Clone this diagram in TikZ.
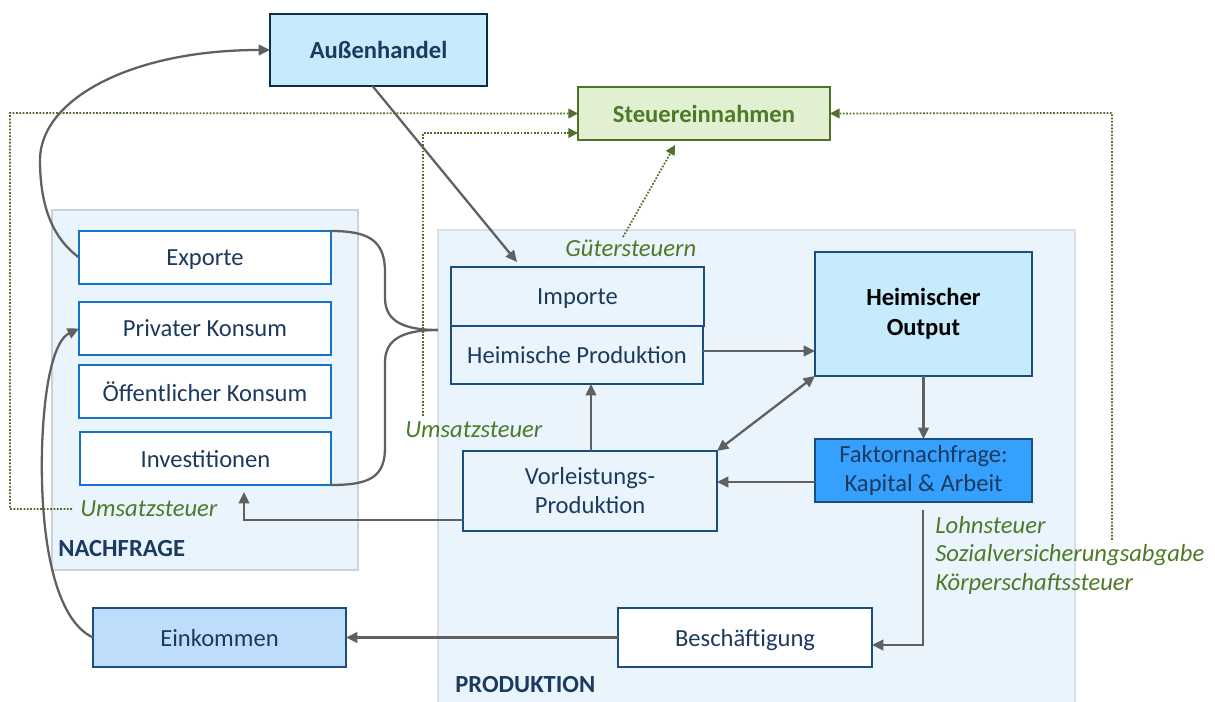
\documentclass[tikz,border=0pt]{standalone}
\usepackage{fontspec}
\setmainfont{Carlito}
\usetikzlibrary{arrows.meta}
\definecolor{navytext}{HTML}{1B3A5E}
\definecolor{navyline}{HTML}{1A4E80}
\definecolor{darknavy}{HTML}{0F2C4C}
\definecolor{blueline}{HTML}{1672C4}
\definecolor{regionbg}{HTML}{EAF4FD}
\definecolor{regionline}{HTML}{C9D2DC}
\definecolor{cyanfill}{HTML}{C5EBFC}
\definecolor{faktfill}{HTML}{36A0FF}
\definecolor{einkfill}{HTML}{BDDDFB}
\definecolor{greentext}{HTML}{4E7A28}
\definecolor{greenfill}{HTML}{E2F0D2}
\definecolor{greenline}{HTML}{4E7328}
\definecolor{greendot}{HTML}{4F702A}
\definecolor{arrowgray}{HTML}{606060}
\begin{document}
\begin{tikzpicture}[x=0.02cm,y=-0.02cm,
  font=\fontsize{14}{16.5}\selectfont,
  box/.style={draw=navyline, line width=1.1pt, text=navytext, inner sep=1pt, outer sep=0pt, align=center},
  oneline/.style={text depth=0pt},
  dembox/.style={draw=blueline, line width=0.9pt, fill=white, text=navytext, outer sep=0pt, text depth=0pt, minimum width=5.04cm, minimum height=1.06cm},
  garrow/.style={draw=arrowgray, line width=1.3pt, -{Triangle[length=6.5pt,width=6pt]}},
  gline/.style={draw=arrowgray, line width=1.3pt},
  dotarrow/.style={draw=greendot, line width=1pt, dash pattern=on 1pt off 0.9pt, -{Triangle[length=5.5pt,width=5.5pt]}},
  taxlabel/.style={text=greentext, font=\fontsize{14}{16.5}\selectfont\itshape, inner sep=0pt, anchor=west},
  regionlabel/.style={text=navytext, font=\fontsize{14}{16.5}\selectfont\bfseries, inner sep=0pt, anchor=west}
]
\useasboundingbox (0,0) rectangle (1215,702);

% regions
\fill[regionbg, draw=regionline, line width=0.6pt] (52,210) rectangle (358,570);
\fill[regionbg, draw=regionline!70, line width=0.6pt] (438,230) rectangle (1075,703);
\node[regionlabel] (nachfrage) at (58,549) {NACHFRAGE};
\node[regionlabel] (produktion) at (455,685) {PRODUKTION};

% nodes
\node[box, oneline, draw=darknavy, line width=1.5pt, fill=cyanfill, font=\fontsize{14}{16.5}\selectfont\bfseries, minimum width=4.34cm, minimum height=1.44cm] (aussen) at (378.5,50) {Außenhandel};
\node[box, oneline, draw=greenline, fill=greenfill, text=greentext, font=\fontsize{14}{16.5}\selectfont\bfseries, minimum width=5.04cm, minimum height=1.06cm] (steuer) at (704,113.5) {Steuereinnahmen};

\node[dembox] (export) at (205,257.5) {Exporte};
\node[dembox] (privat) at (205,328.5) {Privater Konsum};
\node[dembox] (oeff) at (205,391.5) {Öffentlicher Konsum};
\node[dembox, minimum width=5.02cm] (invest) at (205.5,458.5) {Investitionen};

\node[box, oneline, fill=regionbg, minimum width=5.06cm, minimum height=1.18cm] (import) at (577.5,296.5) {Importe};
\node[box, oneline, fill=regionbg, minimum width=5.04cm, minimum height=1.16cm] (heimprod) at (577,355) {Heimische Produktion};
\node[box, fill=cyanfill, text=black, font=\fontsize{14}{17}\selectfont\bfseries, minimum width=4.34cm, minimum height=2.48cm] (output) at (923.5,314) {Heimischer\\Output};
\node[box, fill=faktfill, minimum width=4.34cm, minimum height=1.26cm, inner sep=0pt] (faktor) at (923.5,470.5) {Faktornachfrage:\\Kapital \& Arbeit};
\node[box, fill=regionbg, minimum width=5.08cm, minimum height=1.6cm] (vorl) at (590,491) {Vorleistungs-\\Produktion};
\node[box, oneline, fill=white, minimum width=5.08cm, minimum height=1.18cm] (besch) at (745,637.5) {Beschäftigung};
\node[box, oneline, fill=einkfill, minimum width=5.06cm, minimum height=1.18cm] (eink) at (219.5,637.5) {Einkommen};

% tax labels
\node[taxlabel] (ust1) at (80,509) {Umsatzsteuer};
\node[taxlabel] (ust2) at (405,430) {Umsatzsteuer};
\node[taxlabel] (guet) at (565,248) {Gütersteuern};
\node[taxlabel] (lohn) at (935,525) {Lohnsteuer};
\node[taxlabel] (sozial) at (935,555) {Sozialversicherungsabgabe};
\node[taxlabel] (koerp) at (935,584) {Körperschaftssteuer};

% coordinates
\coordinate (bracetip) at (438,330);
\coordinate (ust1start) at (72,509);
\coordinate (ust2start) at (423,416);
\coordinate (guetstart) at (623,237);
\coordinate (guetend) at (675,145);
\coordinate (rightstart) at (1112,540);
\coordinate (faktstart) at (923,510);
\coordinate (investin) at (244,492);

% gray connectors
\draw[garrow] (aussen.south) ++(-6,0) -- (517,262);
\draw[garrow] (export.west) .. controls (55,240) and (40,210) .. (40,160) .. controls (40,100) and (130,50) .. (aussen.west);
\draw[garrow] (eink.west) .. controls (55,620) and (40,540) .. (42,450) .. controls (44,380) and (55,340) .. (privat.west);
\draw[gline] (export.north east) .. controls (368,231) and (385,240) .. (385,272) -- (385,298) .. controls (385,322) and (405,330) .. (bracetip);
\draw[gline] (bracetip) .. controls (405,330) and (385,338) .. (385,362) -- (385,448) .. controls (385,478) and (368,485) .. (invest.south east);
\draw[garrow] (heimprod.east |- 0,351) -- (output.west |- 0,351);
\draw[garrow] (vorl.north -| 591,0) -- (heimprod.south -| 591,0);
\draw[arrowgray, line width=1.3pt, {Triangle[length=6.5pt,width=6pt]}-{Triangle[length=6.5pt,width=6pt]}] (vorl.north east) -- (output.south west);
\draw[garrow] (output.south) -- (faktor.north);
\draw[garrow] (faktor.west |- 0,482) -- (vorl.east |- 0,482);
\draw[garrow] (faktstart) -- (923,645) -- (besch.east |- 0,645);
\draw[garrow] (besch.west) -- (eink.east);
\draw[garrow] (vorl.west |- 0,520) -- (244,520) -- (investin);

% dotted tax connectors
\draw[dotarrow] (ust1start) -- (10,509) -- (10,113) -- (steuer.west);
\draw[dotarrow] (ust2start) -- (423,133) -- (steuer.west |- 0,133);
\draw[dotarrow] (guetstart) -- (guetend);
\draw[dotarrow] (rightstart) -- (1112,113) -- (steuer.east);
\end{tikzpicture}
\end{document}
